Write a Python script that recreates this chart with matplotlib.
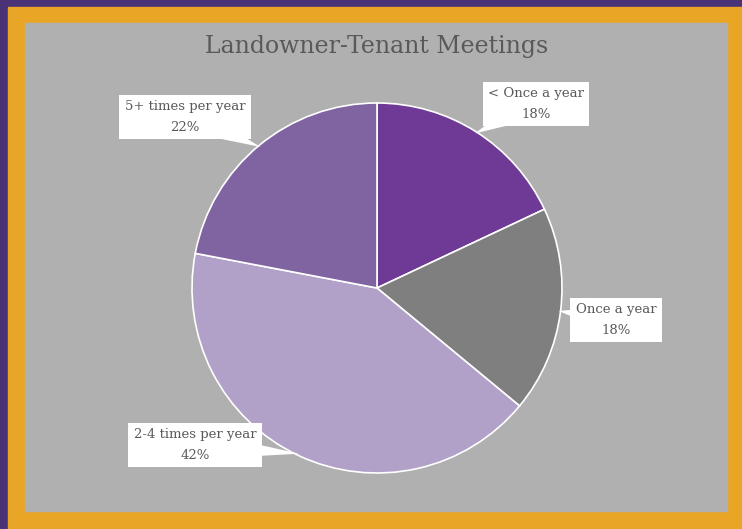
import numpy as np
import matplotlib.pyplot as plt
from matplotlib.patches import Rectangle

# данные
labels = ["< Once a year", "Once a year", "2-4 times per year", "5+ times per year"]
shares = [18, 18, 42, 22]
colors = ["#6f3996", "#7f7f7f", "#b1a1c8", "#8064a2"]
title = "Landowner-Tenant Meetings"

W, H = 742, 529
fig = plt.figure(figsize=(W / 100, H / 100), dpi=100)
fig.patch.set_facecolor("#4a3276")
ax = fig.add_axes([0, 0, 1, 1])

# рамка и фон
ax.add_patch(Rectangle((8, 0), W - 8, H - 7, color="#e9a526", zorder=0))
ax.add_patch(Rectangle((25, H - 511), 702, 488, color="#b0b0b0", zorder=0))

cx, cy, r = 377, H - 288, 185
wedges, _ = ax.pie(shares, colors=colors, startangle=90, counterclock=False,
                   center=(cx, cy), radius=r, frame=True,
                   wedgeprops=dict(edgecolor="white", linewidth=1.2))
ax.set_xlim(0, W)
ax.set_ylim(0, H)
ax.set_aspect("equal")
ax.axis("off")

ax.text(cx, H - 47, title, ha="center", va="center", fontsize=17,
        family="DejaVu Serif", color="#595959")

# позиции подписей (центр бокса, пиксели)
label_pos = [(536, 104), (616, 320), (195, 445), (185, 117)]
for w, lab, s, (tx, ty) in zip(wedges, labels, shares, label_pos):
    ang = np.deg2rad((w.theta1 + w.theta2) / 2)
    px, py = cx + 0.99 * r * np.cos(ang), cy + 0.99 * r * np.sin(ang)
    ax.annotate(f"{lab}\n{s}%", xy=(px, py), xytext=(tx, H - ty),
                ha="center", va="center", fontsize=9.5, family="DejaVu Serif",
                color="#595959", linespacing=1.75,
                bbox=dict(boxstyle="square,pad=0.4", fc="white", ec="none"),
                arrowprops=dict(arrowstyle="wedge,tail_width=2.2,shrink_factor=0.5",
                                fc="white", ec="none", patchA=None,
                                shrinkA=0, shrinkB=0))

fig.savefig("out.png", dpi=100, facecolor=fig.get_facecolor())
